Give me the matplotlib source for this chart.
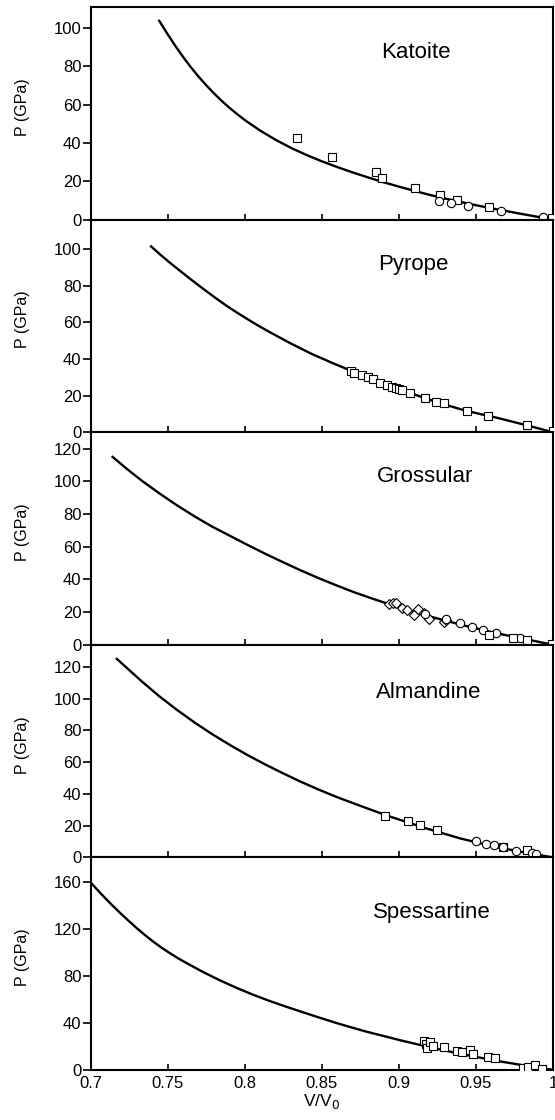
import numpy as np
import matplotlib.pyplot as plt

plt.rcParams['font.family'] = ['Liberation Sans', 'DejaVu Sans']

# ---- Katoite ----
kat_curve_v = [0.7443, 0.750, 0.755, 0.760, 0.765, 0.770, 0.775, 0.780, 0.785, 0.790, 0.795,
               0.800, 0.810, 0.820, 0.830, 0.840, 0.850, 0.860, 0.870, 0.880, 0.890, 0.900,
               0.910, 0.920, 0.930, 0.940, 0.950, 0.960, 0.970, 0.980, 0.990, 1.0]
kat_curve_p = [103.8, 96.5, 90.4, 84.7, 79.4, 74.5, 70.0, 65.8, 61.9, 58.3, 55.0,
               51.9, 46.4, 41.6, 37.4, 33.7, 30.4, 27.4, 24.6, 22.0, 19.5, 17.2,
               15.0, 12.9, 11.0, 9.2, 7.5, 5.9, 4.4, 2.9, 1.45, 0.0]
kat_sq_v = [0.8339, 0.8564, 0.8850, 0.8890, 0.9106, 0.9266, 0.9375, 0.9587, 0.9995]
kat_sq_p = [42.8, 32.6, 24.7, 21.7, 16.3, 13.0, 10.2, 6.5, 1.0]
kat_ci_v = [0.9262, 0.9336, 0.9450, 0.9662, 0.9933]
kat_ci_p = [9.7, 8.6, 6.9, 4.4, 1.5]

# ---- Pyrope ----
pyr_curve_v = [0.739, 0.7451, 0.7512, 0.7570, 0.7627, 0.7685, 0.7742, 0.7811, 0.788, 0.7949,
               0.8018, 0.8087, 0.8156, 0.8293, 0.8431, 0.8569, 0.8684, 0.8811, 0.8937,
               0.9052, 0.9166, 0.9292, 0.9418, 0.9527, 0.9635, 0.9743, 0.9851, 1.0]
pyr_curve_p = [101.4, 96.8, 92.5, 88.6, 84.8, 81.0, 77.4, 73.1, 69.0, 65.2,
               61.6, 58.1, 54.8, 48.6, 42.8, 37.7, 33.7, 29.6, 25.7,
               22.1, 18.6, 15.2, 12.1, 9.9, 7.9, 5.6, 3.3, 0.0]
pyr_sq_v = [0.8689, 0.8705, 0.8760, 0.8797, 0.8832, 0.8879, 0.8922, 0.8955, 0.8983, 0.8998,
            0.9020, 0.9074, 0.9171, 0.9243, 0.9289, 0.9444, 0.9581, 0.9829, 1.0]
pyr_sq_p = [33.2, 32.2, 31.1, 30.2, 29.0, 27.0, 25.7, 24.8, 23.9, 23.4,
            23.0, 21.2, 18.5, 16.6, 15.8, 11.7, 9.0, 4.0, 0.8]

# ---- Grossular ----
gro_curve_v = [0.714, 0.7235, 0.7329, 0.7444, 0.7558, 0.7673, 0.7788, 0.7903, 0.8018,
               0.8133, 0.8247, 0.8362, 0.8477, 0.8592, 0.8707, 0.8822, 0.8937,
               0.9166, 0.9396, 0.9626, 0.9856, 1.0]
gro_curve_p = [114.9, 107.4, 100.4, 92.6, 85.3, 78.5, 72.2, 66.6, 61.0,
               55.6, 50.5, 45.5, 40.8, 36.4, 32.2, 28.4, 24.8,
               18.2, 12.4, 7.2, 2.8, 0.0]
gro_di_v = [0.8937, 0.8959, 0.8980, 0.9017, 0.9050, 0.9097, 0.9125, 0.9162, 0.9197, 0.9294, 0.9305]
gro_di_p = [24.8, 25.4, 25.8, 22.4, 21.4, 18.2, 21.8, 19.4, 15.7, 13.7, 15.3]
gro_ci_v = [0.9169, 0.9305, 0.9396, 0.9475, 0.9547, 0.9628, 0.9784]
gro_ci_p = [18.8, 15.7, 13.3, 10.7, 9.3, 7.3, 4.2]
gro_sq_v = [0.9585, 0.9741, 0.9832, 0.9994]
gro_sq_p = [6.0, 4.2, 3.0, 0.6]

# ---- Almandine ----
alm_curve_v = [0.7168, 0.7329, 0.7443, 0.7558, 0.7673, 0.7788, 0.7903, 0.8018, 0.8133,
               0.8247, 0.8362, 0.8477, 0.8592, 0.8707, 0.8914, 0.9166, 0.9396, 0.9626,
               0.9856, 1.0]
alm_curve_p = [125.1, 111.0, 101.6, 93.0, 85.0, 77.6, 70.8, 64.4, 58.5,
               53.0, 47.7, 42.8, 38.2, 34.0, 26.6, 18.6, 12.0, 6.6,
               2.4, 0.0]
alm_sq_v = [0.8911, 0.9056, 0.9134, 0.9247, 0.9678, 0.9830]
alm_sq_p = [26.3, 23.1, 20.4, 17.2, 6.7, 4.6]
alm_ci_v = [0.9501, 0.9566, 0.9618, 0.9678, 0.9761, 0.9862, 0.9888]
alm_ci_p = [10.1, 8.4, 7.6, 6.3, 4.2, 2.7, 2.1]

# ---- Spessartine ----
spe_curve_v = [0.700, 0.704, 0.708, 0.7135, 0.719, 0.7245, 0.7297, 0.735, 0.7405, 0.746,
               0.7513, 0.7567, 0.7621, 0.7728, 0.7836, 0.7944, 0.8052, 0.8159, 0.8267,
               0.8375, 0.8483, 0.8591, 0.8698, 0.8784, 0.9009, 0.9225, 0.9441, 0.9657,
               0.9786, 0.9916, 1.0]
spe_curve_p = [159.4, 153.6, 148.0, 140.6, 133.6, 126.9, 120.8, 114.9, 109.2, 104.0,
               99.4, 95.0, 91.0, 83.4, 76.4, 70.0, 64.1, 58.8, 53.9,
               49.2, 44.6, 40.1, 36.0, 32.8, 25.3, 18.6, 12.6, 7.3,
               4.5, 1.6, 0.2]
spe_sq_v = [0.9160, 0.9177, 0.9185, 0.9203, 0.9220, 0.9289, 0.9379, 0.9408, 0.9462, 0.9479,
            0.9581, 0.9624, 0.9808, 0.9840, 0.9883, 0.9927]
spe_sq_p = [24.9, 22.0, 19.0, 23.7, 20.8, 20.0, 16.3, 15.7, 17.1, 13.7,
            11.4, 10.0, 2.0, 2.9, 4.3, 0.9]

x_ticks = [0.7, 0.75, 0.8, 0.85, 0.9, 0.95, 1.0]
x_tick_labels = ['0.7', '0.75', '0.8', '0.85', '0.9', '0.95', '1']


def draw_markers(ax, v, p, marker, ms):
    ax.plot(v, p, linestyle='none', marker=marker, ms=ms, mfc='white', mec='black',
            mew=0.8, zorder=3)


def main():
    fig, axes = plt.subplots(5, 1, figsize=(5.55, 11.2), dpi=100, sharex=True,
                             gridspec_kw={'hspace': 0})
    fig.subplots_adjust(left=91 / 555, right=553 / 555, top=1 - 7 / 1120, bottom=1 - 1070 / 1120)

    panels = [
        ('Katoite', kat_curve_v, kat_curve_p,
         [(kat_sq_v, kat_sq_p, 's'), (kat_ci_v, kat_ci_p, 'o')],
         111, np.arange(0, 101, 20), (0.703, 0.784)),
        ('Pyrope', pyr_curve_v, pyr_curve_p,
         [(pyr_sq_v, pyr_sq_p, 's')],
         116, np.arange(0, 101, 20), (0.697, 0.791)),
        ('Grossular', gro_curve_v, gro_curve_p,
         [(gro_di_v, gro_di_p, 'D'), (gro_ci_v, gro_ci_p, 'o'), (gro_sq_v, gro_sq_p, 's')],
         130, np.arange(0, 121, 20), (0.723, 0.791)),
        ('Almandine', alm_curve_v, alm_curve_p,
         [(alm_sq_v, alm_sq_p, 's'), (alm_ci_v, alm_ci_p, 'o')],
         134, np.arange(0, 121, 20), (0.730, 0.777)),
        ('Spessartine', spe_curve_v, spe_curve_p,
         [(spe_sq_v, spe_sq_p, 's')],
         181, np.arange(0, 161, 40), (0.738, 0.742)),
    ]

    for ax, (name, cv, cp, marks, ytop, yticks, tpos) in zip(axes, panels):
        ax.plot(cv, cp, color='black', lw=1.7, zorder=2, solid_joinstyle='round')
        for v, p, m in marks:
            draw_markers(ax, v, p, m, 5.3 if m == 'D' else 6.0)
        ax.set_xlim(0.7, 1.0)
        ax.set_ylim(0, ytop)
        ax.set_yticks(yticks)
        ax.text(tpos[0], tpos[1], name, transform=ax.transAxes, ha='center', va='center',
                fontsize=16)
        ax.set_ylabel('P (GPa)', fontsize=11.5)
        ax.yaxis.set_label_coords(-0.132, 0.53)
        ax.tick_params(axis='y', direction='out', length=6, width=1.2, pad=1, labelsize=12)
        ax.tick_params(axis='x', direction='in', length=4, width=1.2, pad=4, labelsize=12)
        for s in ax.spines.values():
            s.set_linewidth(1.5)

    axes[-1].set_xticks(x_ticks)
    axes[-1].set_xticklabels(x_tick_labels)
    axes[-1].set_xlabel('V/V$_0$', fontsize=12.5, labelpad=1)

    fig.savefig('out.png', dpi=100)


if __name__ == "__main__":
    main()
